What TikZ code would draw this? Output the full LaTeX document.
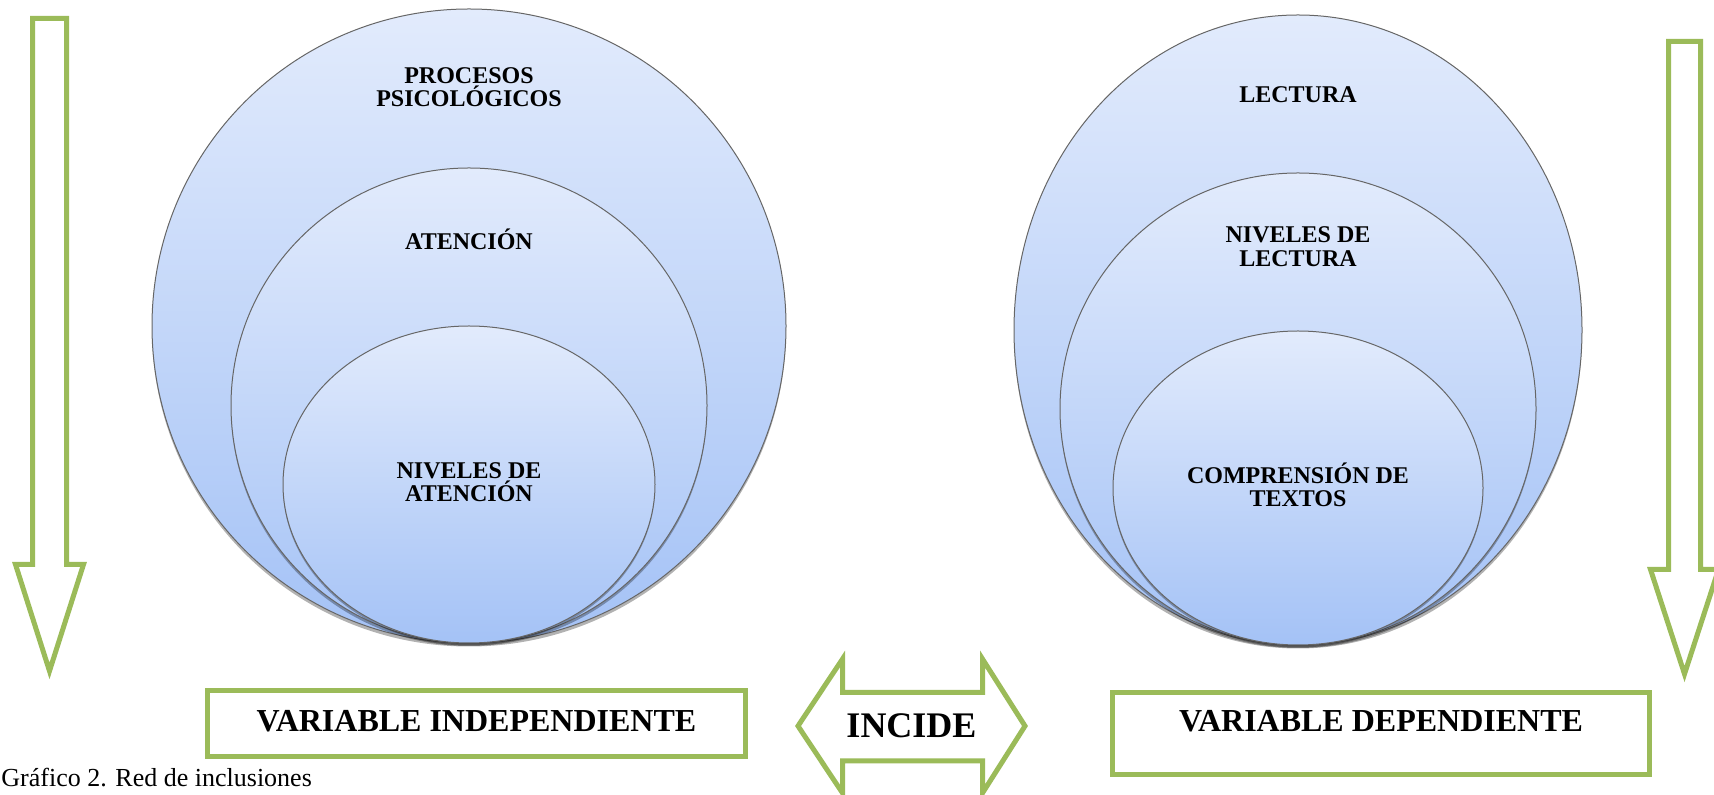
\documentclass[tikz,border=0pt]{standalone}
\usepackage{fontspec}
\setmainfont{Liberation Serif}
\definecolor{grn}{HTML}{9BBB59}
\definecolor{ctop}{HTML}{E2EBFC}
\definecolor{cbot}{HTML}{A4C2F6}
\definecolor{cline}{HTML}{666666}
\tikzset{
  gline/.style={draw=grn, line width=2.5pt, fill=white},
  bubble/.style={top color=ctop, bottom color=cbot, draw=cline, line width=0.5pt},
  bshadow/.style={fill=black, opacity=0.3},
  clbl/.style={font=\fontsize{12}{14}\selectfont\bfseries, inner sep=0pt, anchor=base},
  btxt/.style={font=\fontsize{16}{19}\selectfont\bfseries, inner sep=0pt, anchor=base},
  gbox/.style={draw=grn, line width=2.5pt, rectangle, inner sep=0pt}
}
\begin{document}
\begin{tikzpicture}[x=0.5pt,y=-0.5pt]
\useasboundingbox (0,0) rectangle (1714,795);
\clip (0,0) rectangle (1714,795);

% ---- left down arrow
\draw[gline] (32.5,18.5) -- (66.5,18.5) -- (66.5,564.5) -- (83.5,564.5) -- (49.5,671)
  -- (15.5,564.5) -- (32.5,564.5) -- cycle;
% ---- right down arrow
\draw[gline] (1668.5,41.5) -- (1700.5,41.5) -- (1700.5,569.5) -- (1718.5,569.5) -- (1684.5,674)
  -- (1650.5,569.5) -- (1668.5,569.5) -- cycle;

% ---- left group of bubbles
\fill[bshadow] (469,329.5) ellipse [x radius=317, y radius=317];
\shade[bubble] (469,326) ellipse [x radius=317, y radius=317];
\fill[bshadow] (469,408.5) ellipse [x radius=238, y radius=237.5];
\shade[bubble] (469,405.5) ellipse [x radius=238, y radius=237.5];
\fill[bshadow] (469,487) ellipse [x radius=186, y radius=158.5];
\shade[bubble] (469,484.5) ellipse [x radius=186, y radius=158.5];

% ---- right group of bubbles
\fill[bshadow] (1298,333.5) ellipse [x radius=284, y radius=315];
\shade[bubble] (1298,330) ellipse [x radius=284, y radius=315];
\fill[bshadow] (1298,412) ellipse [x radius=238, y radius=236];
\shade[bubble] (1298,409) ellipse [x radius=238, y radius=236];
\fill[bshadow] (1298,490.5) ellipse [x radius=185, y radius=157];
\shade[bubble] (1298,488) ellipse [x radius=185, y radius=157];

% ---- bubble labels
\node[clbl] (pp1) at (469,84) {PROCESOS};
\node[clbl] (pp2) at (469,107) {PSICOLÓGICOS};
\node[clbl] (at1) at (469,250) {ATENCIÓN};
\node[clbl] (na1) at (469,479) {NIVELES DE};
\node[clbl] (na2) at (469,502) {ATENCIÓN};
\node[clbl] (le1) at (1298,103) {LECTURA};
\node[clbl] (nl1) at (1298,243) {NIVELES DE};
\node[clbl] (nl2) at (1298,267) {LECTURA};
\node[clbl] (ct1) at (1298,484) {COMPRENSIÓN DE};
\node[clbl] (ct2) at (1298,507) {TEXTOS};

% ---- boxes
\node[gbox, minimum width=269pt, minimum height=33pt] (boxL) at (476.5,723.5) {};
\node[btxt] (tL) at (476.5,732) {VARIABLE INDEPENDIENTE};
\node[gbox, minimum width=268.5pt, minimum height=41pt] (boxR) at (1381,733.5) {};
\node[btxt] (tR) at (1381,732) {VARIABLE DEPENDIENTE};

% ---- double arrow
\draw[gline] (798,726) -- (842.5,659) -- (842.5,692.5) -- (982.5,692.5) -- (982.5,659)
  -- (1025,726) -- (982.5,793) -- (982.5,761) -- (842.5,761) -- (842.5,793) -- cycle;
\node[font=\fontsize{18}{21}\selectfont\bfseries, inner sep=0pt, anchor=base] (inc) at (911.5,738) {INCIDE};

% ---- caption
\node[font=\fontsize{13}{15}\selectfont, inner sep=0pt, anchor=base west] (cap) at (1,787) {Gráfico 2. Red de inclusiones};
\end{tikzpicture}
\end{document}
